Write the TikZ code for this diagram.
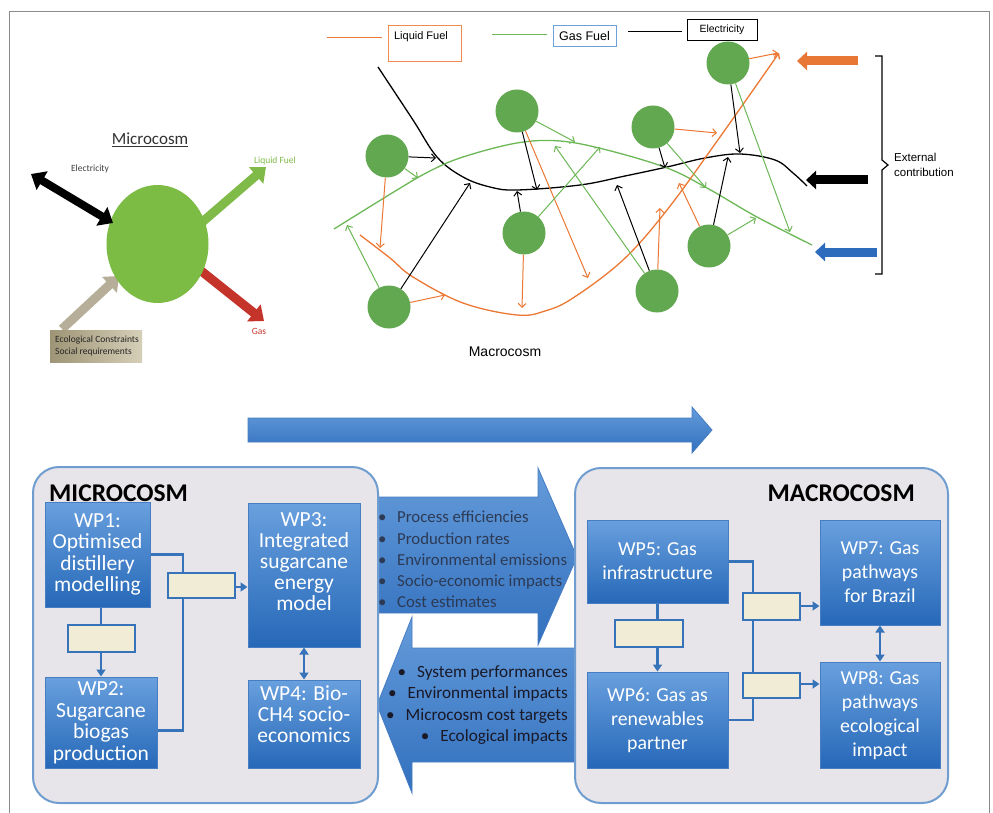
\documentclass[tikz,border=0pt]{standalone}
\usepackage{fontspec}
\setmainfont{Carlito}
\newfontfamily\arial{Liberation Sans}
\usetikzlibrary{arrows.meta,calc,shapes.geometric}
\definecolor{wpT}{RGB}{105,160,222}
\definecolor{wpB}{RGB}{38,104,184}
\definecolor{wpD}{RGB}{70,125,195}
\definecolor{contF}{RGB}{231,229,233}
\definecolor{contD}{RGB}{112,157,207}
\definecolor{cream}{RGB}{240,236,214}
\definecolor{connC}{RGB}{55,115,185}
\definecolor{netG}{RGB}{97,168,80}
\definecolor{lineG}{RGB}{108,184,86}
\definecolor{lineO}{RGB}{236,120,52}
\definecolor{extB}{RGB}{45,108,188}
\definecolor{extO}{RGB}{232,118,52}
\definecolor{microG}{RGB}{124,187,68}
\definecolor{liqG}{RGB}{128,186,72}
\definecolor{gasR}{RGB}{196,52,42}
\definecolor{tanA}{RGB}{182,174,152}
\definecolor{tanL}{RGB}{158,148,118}
\definecolor{tanR}{RGB}{214,207,184}
\definecolor{txtD}{RGB}{45,58,85}
\definecolor{txtK}{RGB}{25,25,40}
\definecolor{frameC}{RGB}{140,140,140}
\definecolor{arT}{RGB}{100,155,218}
\definecolor{arB}{RGB}{50,112,190}
\definecolor{gasBox}{RGB}{110,160,215}
\begin{document}
\begin{tikzpicture}[x=1pt,y=-1pt,
 wp/.style={draw=wpD, line width=1pt, top color=wpT, bottom color=wpB, text=white, align=center, inner sep=0pt, font=\fontsize{21.5}{21.5}\selectfont},
 wpm/.style={wp, font=\fontsize{19.8}{24}\selectfont},
 wptext/.style={text=white, align=center, inner sep=0pt, font=\fontsize{21.5}{21}\selectfont},
 cont/.style={draw=contD, line width=2pt, fill=contF, rounded corners=26pt},
 creambox/.style={draw=connC, line width=1.5pt, fill=cream, inner sep=0pt},
 conn/.style={draw=connC, line width=2.5pt},
 tipc/.style={-{Triangle[length=7pt,width=9pt]}},
 dtip/.style={{Triangle[length=7pt,width=9pt]}-{Triangle[length=7pt,width=9pt]}},
 bigar/.style={draw=wpD, line width=0.8pt, top color=arT, bottom color=arB},
 gc/.style={circle, fill=netG, minimum size=43pt, inner sep=0pt},
 na/.style={line width=1pt, -{Straight Barb[length=4pt,width=8pt]}},
 curve/.style={line width=1.3pt},
 ext/.style={line width=9pt, -{Triangle[length=10pt,width=18pt]}},
 fat/.style={line width=9pt, -{Triangle[length=13pt,width=21pt]}},
 lbl/.style={inner sep=0pt}
]
\useasboundingbox (0,0) rectangle (993,813);
\fill[white] (0,0) rectangle (993,813);
\draw[frameC, line width=1pt] (9,813) -- (9,12) -- (989,12) -- (989,813);

% ---------------- Microcosm (top left) ----------------
\node[lbl, text=black!80, font=\fontsize{17}{19}\selectfont] (mtitle) at (150,140) {\underline{Microcosm}};
\coordinate (eA) at (31,174);
\coordinate (eB) at (113,223);
\coordinate (lA) at (200,224);
\coordinate (lB) at (266,167);
\coordinate (gA) at (200,270);
\coordinate (gB) at (264,321);
\coordinate (tA) at (62,329);
\coordinate (tB) at (119,276);
\draw[fat, draw=liqG] (lA) -- (lB);
\draw[fat, draw=gasR] (gA) -- (gB);
\draw[fat, draw=tanA] (tA) -- (tB);
\node[ellipse, fill=microG, minimum width=102pt, minimum height=118pt, inner sep=0pt] (mc) at (157.5,244) {};
\draw[line width=8pt, {Triangle[length=13pt,width=21pt]}-{Triangle[length=13pt,width=21pt]}] (eA) -- (eB);
\node[lbl, text=black!75, font=\fontsize{9.5}{11}\selectfont] (elab) at (90,169) {Electricity};
\node[lbl, text=liqG, font=\fontsize{9.5}{11}\selectfont] (llab) at (275,161) {Liquid Fuel};
\node[lbl, text=gasR, font=\fontsize{9.5}{11}\selectfont] (glab) at (259,331) {Gas};
\node[left color=tanL, right color=tanR, minimum width=92pt, minimum height=32pt, inner sep=0pt, anchor=north west] (eco) at (50,330) {};
\node[lbl, anchor=west, align=left, text=black!85, font=\fontsize{9.5}{11.5}\selectfont] (ecot) at (55,346) {Ecological Constraints\\Social requirements};

% ---------------- Macrocosm network (top) ----------------
\draw[lineO, line width=1pt] (327,38) -- (382,38);
\node[draw=lineO!85, line width=1pt, minimum width=73pt, minimum height=36pt, inner sep=0pt] (lfbox) at (424.5,44) {};
\node[lbl, font=\arial\fontsize{11}{13}\selectfont] (lftext) at (421,37) {Liquid Fuel};
\draw[lineG, line width=1pt] (492,35) -- (547,35);
\node[draw=gasBox, line width=1pt, minimum width=63pt, minimum height=21pt, inner sep=0pt, font=\arial\fontsize{12.5}{14}\selectfont] (gfbox) at (584.5,36.5) {Gas Fuel};
\draw[black, line width=1pt] (628,32) -- (682,32);
\node[draw=black, line width=0.8pt, minimum width=70pt, minimum height=21pt, inner sep=0pt, font=\arial\fontsize{10.5}{12}\selectfont] (elbox) at (722,29.5) {Electricity};

% main lines
\draw[black, curve] plot[smooth, tension=0.6] coordinates {(378,67) (413,120) (437,157) (463,177) (490,187) (517,190) (580,185) (625,176) (667,167) (705,158) (740,154) (775,160) (793,173) (807,186)};
\draw[lineG, curve] plot[smooth, tension=0.6] coordinates {(334,229) (397,190) (430,171) (463,157) (517,143) (560,141) (607,150) (667,168) (707,188) (757,217) (812,245)};
\draw[lineO, curve, -{Straight Barb[length=4pt,width=8pt]}] plot[smooth, tension=0.6] coordinates {(360,235) (390,258) (413,277) (463,303) (517,315) (545,311) (573,298) (623,260) (667,210) (720,137) (779,53)};

% circles
\node[gc] (c1) at (387,156) {};
\node[gc] (c2) at (517,111) {};
\node[gc] (c3) at (524,233) {};
\node[gc] (c4) at (389,307) {};
\node[gc] (c5) at (653,127) {};
\node[gc] (c6) at (728,63) {};
\node[gc] (c7) at (709,246) {};
\node[gc] (c8) at (657,291) {};

% small arrows
\draw[na, black] (c1) -- (436,158);
\draw[na, lineG] (c1) -- (418,178);
\draw[na, lineO] (c1) -- (380,248);
\draw[na, lineG] (c4) -- (347,225);
\draw[na, black] (c4) -- (470,183);
\draw[na, lineO] (c4) -- (445,295);
\draw[na, black] (c2) -- (537,190);
\draw[na, lineG] (c2) -- (575,142);
\draw[na, lineO] (c2) -- (588,278);
\draw[na, black] (c3) -- (517,191);
\draw[na, lineO] (c3) -- (522,308);
\draw[na, lineG] (c3) -- (600,147);
\draw[na, lineG] (c8) -- (555,146);
\draw[na, black] (c8) -- (617,185);
\draw[na, lineO] (c8) -- (660,208);
\draw[na, black] (c7) -- (728,157);
\draw[na, lineO] (c7) -- (679,183);
\draw[na, lineG] (c7) -- (756,218);
\draw[na, lineO] (c5) -- (717,133);
\draw[na, black] (c5) -- (665,168);
\draw[na, lineG] (c5) -- (706,188);
\draw[na, black] (c6) -- (740,153);
\draw[na, lineG] (c6) -- (790,232);
\draw[na, lineO] (c6) -- (778,53);

% external contributions
\coordinate (xo1) at (858,61);  \coordinate (xo2) at (797,61);
\coordinate (xk1) at (868,180); \coordinate (xk2) at (806,180);
\coordinate (xb1) at (877,252); \coordinate (xb2) at (815,252);
\draw[ext, draw=extO] (xo1) -- (xo2);
\draw[ext, draw=black] (xk1) -- (xk2);
\draw[ext, draw=extB] (xb1) -- (xb2);
\draw[black, line width=1.2pt] (875,56) -- (882,56) -- (882,160) -- (888,165) -- (882,170) -- (882,274) -- (875,274);
\node[lbl, anchor=west, align=left, font=\arial\fontsize{11.5}{15}\selectfont] (extt) at (894,165) {External\\contribution};
\node[lbl, font=\arial\fontsize{14}{16}\selectfont] (macl) at (505,352) {Macrocosm};

% ---------------- Bottom ----------------
\draw[bigar] (248,418) -- (692,418) -- (692,407) -- (712,430) -- (692,453) -- (692,442) -- (248,442) -- cycle;

\draw[bigar] (372,497) -- (538,497) -- (538,468) -- (577,557) -- (538,645) -- (538,613) -- (372,613) -- cycle;
\draw[bigar] (580,648) -- (412,648) -- (412,617) -- (377,705) -- (412,793) -- (412,762) -- (580,762) -- cycle;

\draw[cont] (33,467) rectangle (378,803);
\draw[cont] (575,468) rectangle (948,803);

\node[lbl, anchor=west, font=\bfseries\fontsize{25.5}{28}\selectfont] (microt) at (49,493) {MICROCOSM};
\node[lbl, anchor=east, font=\bfseries\fontsize{25.5}{28}\selectfont] (macrot) at (915,493) {MACROCOSM};

\node[wp, minimum width=105pt, minimum height=105pt] (wp1) at (97.5,554.5) {WP1:\\Optimised\\distillery\\modelling};
\node[wp, minimum width=112pt, minimum height=91pt] (wp2) at (101,722.5) {WP2:\\Sugarcane\\biogas\\production};
\node[wp, minimum width=112pt, minimum height=144pt] (wp3) at (304,575) {};
\node[wptext] (wp3t) at (304,562) {WP3:\\Integrated\\sugarcane\\energy\\model};
\node[wp, minimum width=112pt, minimum height=88pt] (wp4) at (304,724) {};
\node[wptext] (wp4t) at (304,714) {WP4: Bio-\\CH4 socio-\\economics};

\node[wpm, minimum width=141pt, minimum height=83pt] (wp5) at (657.5,561.5) {WP5: Gas\\infrastructure};
\node[wpm, minimum width=141pt, minimum height=96pt] (wp6) at (657.5,720) {WP6: Gas as\\renewables\\partner};
\node[wpm, minimum width=120pt, minimum height=105pt] (wp7) at (880,572.5) {WP7: Gas\\pathways\\for Brazil};
\node[wpm, minimum width=120pt, minimum height=106pt] (wp8) at (880,715) {WP8: Gas\\pathways\\ecological\\impact};

% connectors micro
\coordinate (j1) at (183,587);
\draw[conn] (wp1.east) -| (j1) |- ($(wp2.east)+(0,8)$);
\draw[conn, tipc] (j1) -- (j1 -| wp3.west);
\draw[conn, tipc] ($(wp1.south)+(3.5,0)$) -- ($(wp1.south |- wp2.north)+(3.5,0)$);
\draw[conn, dtip] (wp3.south) -- (wp4.north);
\node[creambox, minimum width=67pt, minimum height=27pt] (cb1) at (101.5,638.5) {};
\node[creambox, minimum width=67pt, minimum height=25pt] (cb2) at (201.5,585.5) {};

% connectors macro
\coordinate (j2) at (753,606);
\coordinate (j3) at (753,684);
\draw[conn] (wp5.east) -| (j2) |- (wp6.east);
\draw[conn, tipc] (j2) -- (j2 -| wp7.west);
\draw[conn, tipc] (j3) -- (j3 -| wp8.west);
\draw[conn, tipc] (wp5.south) -- (wp6.north);
\draw[conn, dtip] (wp7.south) -- (wp8.north);
\node[creambox, minimum width=68pt, minimum height=27pt] (cb3) at (649,633.5) {};
\node[creambox, minimum width=57pt, minimum height=27pt] (cb4) at (771.5,606.5) {};
\node[creambox, minimum width=57pt, minimum height=25pt] (cb5) at (771.5,685.5) {};

% arrow texts
\node[lbl, anchor=west, align=left, text=txtD, font=\fontsize{16.8}{21.25}\selectfont] (outt) at (378,559.5)
 {\makebox[19pt][l]{\textbullet}Process efficiencies\\\makebox[19pt][l]{\textbullet}Production rates\\\makebox[19pt][l]{\textbullet}Environmental emissions\\\makebox[19pt][l]{\textbullet}Socio-economic impacts\\\makebox[19pt][l]{\textbullet}Cost estimates};
\node[lbl, anchor=east, align=right, text=txtK, font=\fontsize{17.2}{21.3}\selectfont] (int) at (568,705)
 {\textbullet\hspace{11pt}System performances\\\textbullet\hspace{11pt}Environmental impacts\\\textbullet\hspace{11pt}Microcosm cost targets\\\textbullet\hspace{11pt}Ecological impacts};
\end{tikzpicture}
\end{document}
